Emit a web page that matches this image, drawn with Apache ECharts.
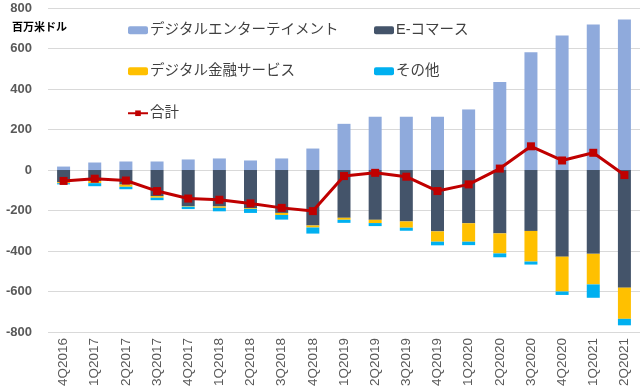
<!DOCTYPE html>
<html><head><meta charset="utf-8">
<script src="https://cdn.jsdelivr.net/npm/echarts@6/dist/echarts.min.js"></script>
<style>html,body{margin:0;padding:0;background:#fff}#c{width:640px;height:392px}</style>
</head><body><div id="c"></div>
<script>
const categories = ['4Q2016','1Q2017','2Q2017','3Q2017','4Q2017','1Q2018','2Q2018','3Q2018','4Q2018','1Q2019','2Q2019','3Q2019','4Q2019','1Q2020','2Q2020','3Q2020','4Q2020','1Q2021','2Q2021'];
const entertainment = [17, 37, 42, 42, 52, 57, 47, 57, 106, 228, 263, 263, 263, 299, 435, 582, 664, 718, 743];
const ecommerce = [-60, -55, -72, -129, -178, -180, -188, -212, -274, -236, -246, -254, -303, -263, -313, -301, -428, -414, -581];
const finance = [-5, -10, -11, -8, -3, -7, -4, -10, -10, -10, -16, -31, -51, -91, -99, -151, -172, -151, -154];
const other = [-6, -15, -12, -12, -12, -17, -20, -23, -30, -15, -15, -15, -18, -17, -19, -15, -17, -66, -32];
const total = [-54, -43, -52, -104, -141, -147, -165, -187, -203, -30, -14, -33, -104, -71, 7, 117, 47, 85, -25];
const yTicks = {min: -800, max: 800, interval: 200};

const names = ['デジタルエンターテイメント','E-コマース','デジタル金融サービス','その他','合計'];
const colors = ['#8FAADC','#44546A','#FFC000','#00B0F0','#C00000'];
const FF = '"Liberation Sans","Noto Sans CJK JP",sans-serif';

const chart = echarts.init(document.getElementById('c'), null, {renderer:'canvas'});
function lg(name, left, top, isLine){
  return {
    data:[name], left:left, top:top, orient:'horizontal', padding:0,
    itemWidth: 20, itemHeight: isLine ? 7 : 8, itemGap: 0,
    textStyle:{fontSize:14.5, color:'#404040', fontFamily:FF, padding:[0,0,0,-3]},
    selectedMode:false
  };
}
const barBase = {type:'bar', stack:'s', barWidth:13, emphasis:{disabled:true}};
chart.setOption({
  animation:false,
  color: colors,
  grid:{left:48, right:0, top:8, bottom:60, containLabel:false},
  legend:[
    lg(names[0],128,23,false),
    lg(names[1],374,23,false),
    lg(names[2],128,64,false),
    lg(names[3],374,64,false),
    lg(names[4],127,106,true)
  ],
  graphic:[{type:'text', left:12, top:22, style:{text:'百万米ドル', fontSize:11, fontWeight:'bold', fill:'#000', fontFamily:FF}}],
  xAxis:{type:'category', data:categories,
    axisLine:{show:false, onZero:false}, axisTick:{show:false},
    axisLabel:{rotate:90, color:'#595959', fontSize:13.5, fontFamily:FF, margin:6, interval:0}},
  yAxis:{type:'value', min:yTicks.min, max:yTicks.max, interval:yTicks.interval,
    axisLine:{show:false}, axisTick:{show:false},
    splitLine:{lineStyle:{color:'#D9D9D9', width:1}},
    axisLabel:{color:'#595959', fontSize:13, fontWeight:'bold', fontFamily:FF, margin:16}},
  series:[
    Object.assign({}, barBase, {name:names[0], data:entertainment, itemStyle:{color:colors[0]}}),
    Object.assign({}, barBase, {name:names[1], data:ecommerce, itemStyle:{color:colors[1]}}),
    Object.assign({}, barBase, {name:names[2], data:finance, itemStyle:{color:colors[2]}}),
    Object.assign({}, barBase, {name:names[3], data:other, itemStyle:{color:colors[3]}}),
    {type:'line', name:names[4], data:total, symbol:'rect', symbolSize:8, z:5,
     lineStyle:{color:colors[4], width:3}, itemStyle:{color:colors[4]}, emphasis:{disabled:true}}
  ]
});
</script></body></html>
